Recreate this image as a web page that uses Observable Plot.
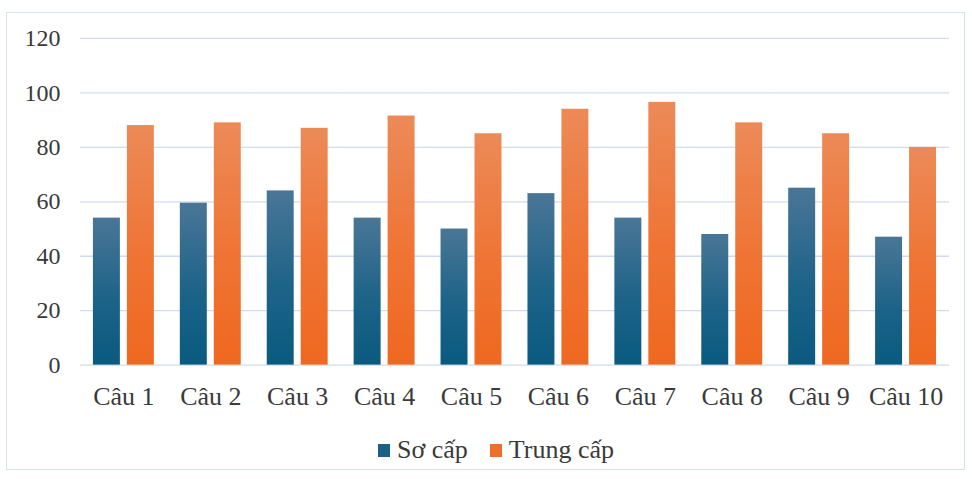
<!DOCTYPE html>
<html>
<head>
<meta charset="utf-8">
<script src="https://cdn.jsdelivr.net/npm/d3@7"></script>
<script src="https://cdn.jsdelivr.net/npm/@observablehq/plot@0.6"></script>
<style>
  html, body { margin: 0; padding: 0; background: #fff; }
  #frame {
    position: absolute; left: 6px; top: 12px; width: 957px; height: 456px;
    border: 1px solid #d6e1ee; background: #fff; overflow: hidden;
  }
  #chart { position: absolute; left: 0; top: 0; }
  #legend {
    position: absolute; left: 371px; top: 424px;
    display: flex; align-items: center;
    font-family: "Liberation Serif", "Times New Roman", serif;
    font-size: 26px; line-height: 26px; color: #3a3a3a;
  }
  #legend .item { display: flex; align-items: center; margin-right: 22px; }
  #legend .sw { width: 12px; height: 13px; margin-right: 7px; }
</style>
</head>
<body>
<div id="frame">
  <div id="chart"></div>
  <div id="legend"></div>
</div>
<script>
const categories = ["Câu 1", "Câu 2", "Câu 3", "Câu 4", "Câu 5", "Câu 6", "Câu 7", "Câu 8", "Câu 9", "Câu 10"];
const series = ["Sơ cấp", "Trung cấp"];
const soCap = [54, 59.5, 64, 54, 50, 63, 54, 48, 65, 47];
const trungCap = [88, 89, 87, 91.5, 85, 94, 96.5, 89, 85, 80];
const yTicks = [0, 20, 40, 60, 80, 100, 120];
const swatchColors = ["#1b6186", "#ee6f2b"];

const data = categories.flatMap((c, i) => [
  {cat: c, series: series[0], value: soCap[i]},
  {cat: c, series: series[1], value: trungCap[i]}
]);

const svg = Plot.plot({
  width: 958,
  height: 418,
  marginLeft: 69,
  marginRight: 12,
  marginTop: 25,
  marginBottom: 66,
  style: {fontFamily: "'Liberation Serif', 'Times New Roman', serif", fontSize: "24px", color: "#3a3a3a", background: "transparent"},
  fx: {domain: categories, paddingInner: 0, paddingOuter: 0, label: null},
  x: {domain: series, axis: null, paddingInner: 0.22, paddingOuter: 0.38},
  y: {domain: [0, 120], label: null},
  marks: [
    Plot.gridY(yTicks, {stroke: "#d0dced", strokeOpacity: 1, strokeWidth: 1.3}),
    Plot.axisY(yTicks, {tickSize: 0, tickPadding: 20, label: null, fontSize: 24}),
    Plot.axisFx({anchor: "bottom", tickSize: 0, tickPadding: 21, label: null, fontSize: 26}),
    Plot.barY(data.filter(d => d.series === series[0]), {fx: "cat", x: "series", y: "value", fill: "url(#gBlue)"}),
    Plot.barY(data.filter(d => d.series === series[1]), {fx: "cat", x: "series", y: "value", fill: "url(#gOrange)"})
  ]
});

svg.insertAdjacentHTML("afterbegin", `
<defs>
  <linearGradient id="gBlue" x1="0" y1="0" x2="0" y2="1">
    <stop offset="0" stop-color="#4a7696"/>
    <stop offset="0.55" stop-color="#1d6388"/>
    <stop offset="1" stop-color="#0a5a7f"/>
  </linearGradient>
  <linearGradient id="gOrange" x1="0" y1="0" x2="0" y2="1">
    <stop offset="0" stop-color="#ec8a58"/>
    <stop offset="0.55" stop-color="#ef7434"/>
    <stop offset="1" stop-color="#ef6820"/>
  </linearGradient>
</defs>`);

document.getElementById("chart").appendChild(svg);

const legend = document.getElementById("legend");
series.forEach((s, i) => {
  const item = document.createElement("div");
  item.className = "item";
  const sw = document.createElement("div");
  sw.className = "sw";
  sw.style.background = swatchColors[i];
  const label = document.createElement("span");
  label.textContent = s;
  item.appendChild(sw);
  item.appendChild(label);
  legend.appendChild(item);
});
</script>
</body>
</html>
